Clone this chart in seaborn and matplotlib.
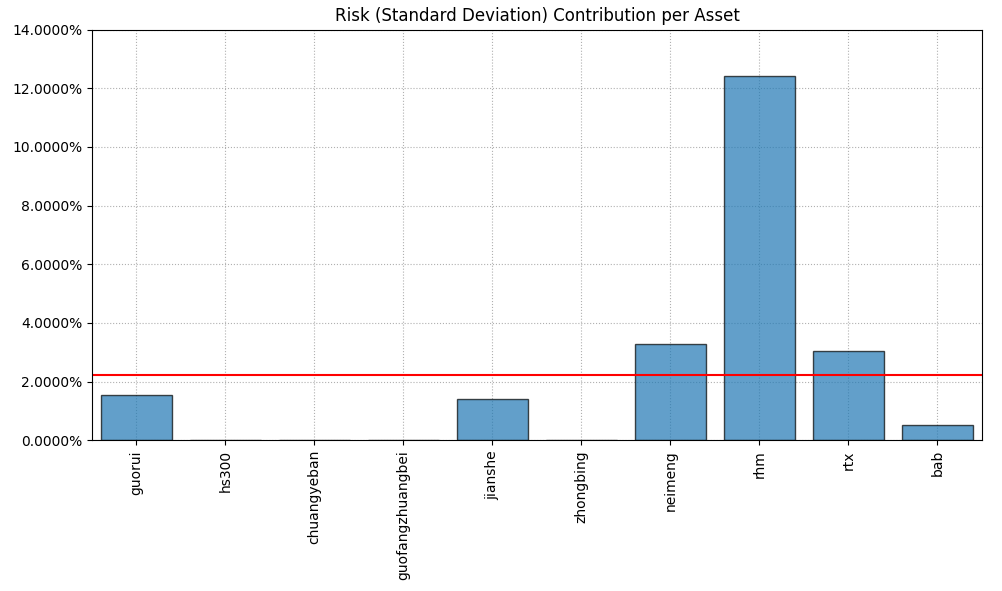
import matplotlib
matplotlib.use("Agg")
import matplotlib.pyplot as plt
import seaborn as sns
import pandas as pd
from matplotlib.ticker import FuncFormatter

assets = ["guorui", "hs300", "chuangyeban", "guofangzhuangbei", "jianshe",
          "zhongbing", "neimeng", "rhm", "rtx", "bab"]
risk_contrib = [0.0153, 0.0, 0.0, 0.0, 0.0140, 0.0, 0.0327, 0.1240, 0.0303, 0.0051]
avg_line = 0.0221

df = pd.DataFrame({"asset": assets, "rc": risk_contrib})

fig, ax = plt.subplots(figsize=(10.03, 5.91), dpi=100)
fig.subplots_adjust(left=0.0917, right=0.979, top=0.950, bottom=0.255)

sns.barplot(data=df, x="asset", y="rc", color="#1f77b4", alpha=0.7,
            edgecolor="black", linewidth=1.0, width=0.8, saturation=1, ax=ax)
for p in ax.patches:
    p.set_alpha(0.7)
ax.axhline(avg_line, color="red", linewidth=1.5)

ax.set_ylim(0, 0.14)
ax.set_xlim(-0.5, len(assets) - 0.5)
ax.yaxis.set_major_formatter(FuncFormatter(lambda v, p: f"{v*100:.4f}%"))
ax.set_title("Risk (Standard Deviation) Contribution per Asset", fontsize=12)
ax.set_xlabel("")
ax.set_ylabel("")
ax.tick_params(axis="x", rotation=90)
ax.grid(True, linestyle=":", color="#b0b0b0", linewidth=0.8)
ax.set_axisbelow(True)

fig.savefig("out.png", dpi=100)
